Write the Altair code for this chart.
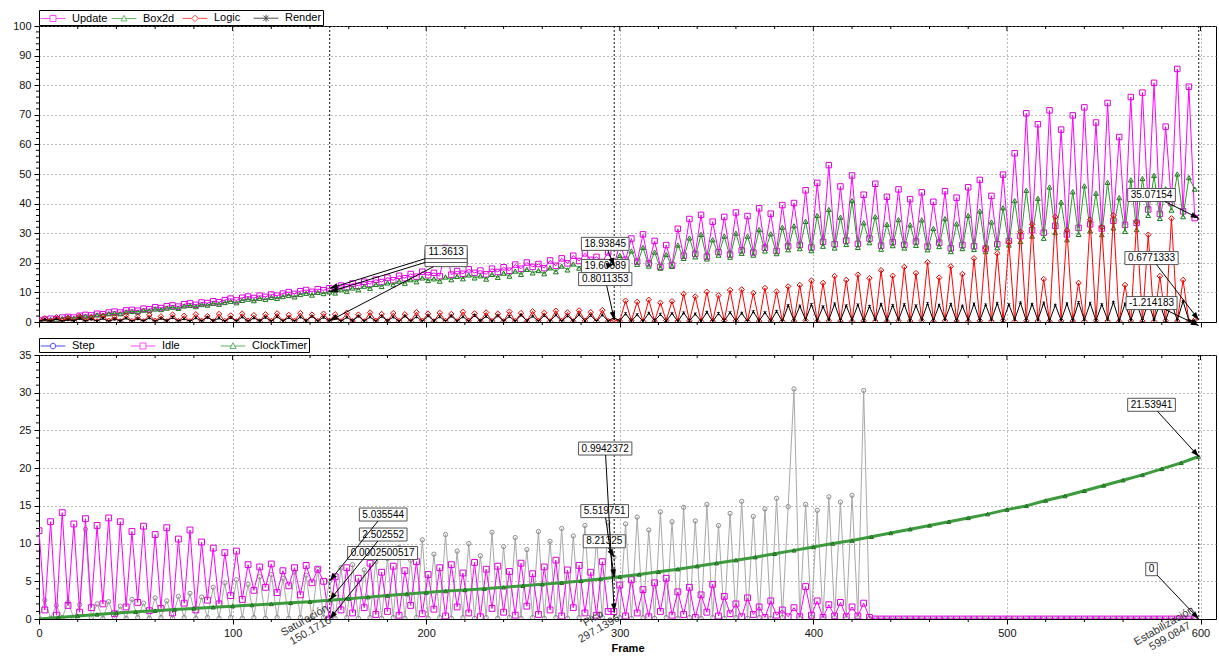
import math
import altair as alt
import pandas as pd

FONT = "Liberation Sans"
W = 1177
H_TOP = 296
H_BOT = 264
X_MAX = 608
Y_TOP_MAX = 100
Y_BOT_MAX = 35

# ---------------- data (sampled every 3rd frame) ----------------
frames = list(range(0, 600, 3))

update = [
    0.5, 0.8, 1.1, 0.9, 1.5, 1.7, 1.5, 2.1, 2.4, 2.2,
    2.8, 2.6, 3.2, 3.5, 3.2, 3.9, 4.1, 3.8, 4.5, 4.3,
    5.0, 4.7, 5.3, 5.6, 5.2, 6.0, 6.3, 5.8, 6.6, 6.4,
    7.0, 6.7, 7.4, 7.9, 7.3, 8.2, 8.6, 8.1, 8.9, 8.5,
    9.3, 8.9, 9.6, 10.1, 9.5, 10.4, 10.8, 10.2, 11.1, 10.7,
    11.4, 10.9, 12.3, 11.7, 13.0, 12.2, 13.6, 12.8, 14.3, 13.5,
    15.0, 14.1, 15.6, 14.8, 16.2, 15.3, 17.0, 15.8, 16.6, 15.5,
    25.0, 16.0, 17.2, 16.3, 17.8, 16.6, 17.4, 16.1, 18.0, 16.9,
    18.5, 17.3, 19.4, 18.0, 20.1, 18.6, 19.6, 18.2, 20.8, 19.0,
    21.5, 19.8, 22.4, 20.6, 23.2, 21.0, 22.0, 20.3, 23.5, 18.9,
    26.5, 21.0, 28.2, 20.4, 29.6, 19.8, 27.4, 18.6, 26.0, 19.2,
    31.5, 22.4, 34.8, 23.0, 36.2, 22.1, 33.9, 23.6, 35.5, 22.8,
    37.0, 24.2, 35.8, 23.5, 38.4, 25.1, 36.6, 24.0, 39.5, 25.6,
    40.2, 26.0, 44.5, 25.2, 47.0, 27.1, 53.0, 26.3, 45.8, 27.5,
    49.5, 26.4, 43.0, 28.2, 46.7, 25.8, 42.3, 27.0, 44.8, 26.1,
    41.5, 27.2, 43.8, 25.5, 40.6, 26.8, 44.2, 24.9, 42.0, 26.0,
    45.5, 25.6, 48.0, 24.8, 42.6, 26.3, 49.8, 27.4, 57.0, 29.0,
    70.5, 31.0, 66.8, 30.2, 71.5, 32.5, 65.0, 29.6, 69.8, 31.8,
    72.5, 33.0, 67.4, 31.6, 74.0, 34.2, 62.5, 32.8, 76.0, 33.5,
    77.5, 38.0, 80.8, 36.5, 66.0, 40.2, 85.5, 37.4, 79.5, 35.1,
]

box2d = [
    0.4, 0.6, 0.9, 0.8, 1.2, 1.4, 1.3, 1.8, 2.0, 1.9,
    2.4, 2.3, 2.8, 3.0, 2.8, 3.4, 3.6, 3.4, 4.0, 3.8,
    4.4, 4.2, 4.7, 5.0, 4.6, 5.4, 5.6, 5.2, 5.9, 5.7,
    6.3, 6.0, 6.6, 7.0, 6.5, 7.3, 7.7, 7.2, 8.0, 7.6,
    8.3, 8.0, 8.6, 9.0, 8.5, 9.3, 9.7, 9.1, 10.0, 9.6,
    10.2, 9.8, 10.9, 10.4, 11.5, 10.9, 12.1, 11.4, 12.7, 12.0,
    13.2, 12.6, 13.8, 13.1, 14.3, 13.6, 14.9, 14.0, 14.6, 13.8,
    15.2, 14.3, 15.4, 14.6, 15.9, 14.9, 15.6, 14.5, 16.1, 15.1,
    16.5, 15.5, 17.2, 16.1, 17.8, 16.6, 17.4, 16.3, 18.3, 17.0,
    18.9, 17.6, 19.6, 18.2, 20.3, 18.7, 19.5, 18.0, 20.6, 19.6,
    22.5, 19.8, 24.0, 19.5, 25.2, 18.9, 23.6, 18.2, 22.8, 18.8,
    26.0, 21.5, 28.4, 22.0, 29.6, 21.3, 27.8, 22.6, 29.0, 21.9,
    30.0, 23.2, 29.0, 22.6, 31.2, 24.0, 29.8, 23.1, 32.0, 24.4,
    32.5, 24.8, 34.0, 24.1, 36.0, 25.6, 38.0, 25.0, 35.4, 26.2,
    41.0, 25.2, 33.5, 26.8, 35.6, 24.6, 33.0, 25.8, 34.6, 25.0,
    32.8, 25.9, 34.5, 24.4, 31.6, 25.5, 34.9, 23.8, 33.2, 24.8,
    36.0, 24.5, 37.5, 23.8, 33.8, 25.1, 38.6, 26.0, 41.0, 27.2,
    44.5, 29.0, 41.8, 28.3, 45.6, 30.2, 40.5, 27.8, 44.0, 29.6,
    46.0, 30.8, 43.5, 29.5, 47.2, 31.8, 42.0, 30.6, 48.0, 31.2,
    48.5, 36.0, 49.5, 35.0, 45.0, 37.8, 50.0, 35.6, 48.8, 44.9,
]

logic = [
    0.3, 1.2, 0.2, 1.6, 0.4, 1.4, 0.2, 1.9, 0.3, 1.5,
    0.2, 2.0, 0.4, 1.7, 0.2, 2.2, 0.3, 1.8, 0.2, 2.4,
    0.4, 1.9, 0.2, 2.5, 0.3, 2.1, 0.2, 2.6, 0.4, 2.0,
    0.2, 2.7, 0.3, 2.2, 0.2, 2.8, 0.4, 2.3, 0.2, 2.6,
    0.3, 2.9, 0.2, 2.4, 0.4, 3.0, 0.2, 2.5, 0.3, 2.8,
    0.42, 2.6, 0.2, 3.1, 0.3, 2.5, 0.2, 3.2, 0.4, 2.7,
    0.2, 3.0, 0.3, 2.6, 0.2, 3.3, 0.4, 2.8, 0.2, 3.1,
    0.3, 2.7, 0.2, 3.4, 0.4, 2.9, 0.2, 3.2, 0.3, 2.8,
    0.2, 3.5, 0.3, 3.0, 0.2, 3.6, 0.4, 3.1, 0.2, 3.8,
    0.3, 3.2, 0.2, 3.9, 0.4, 3.3, 0.2, 4.0, 0.3, 0.8,
    0.3, 7.2, 0.4, 6.8, 0.2, 7.5, 0.3, 6.5, 0.5, 7.0,
    0.3, 9.5, 0.4, 8.6, 0.2, 10.2, 0.3, 9.0, 0.5, 10.8,
    0.4, 11.0, 0.2, 9.8, 0.3, 11.5, 0.4, 10.3, 0.2, 12.0,
    0.3, 12.5, 0.5, 14.0, 0.2, 13.2, 0.4, 15.5, 0.3, 14.2,
    0.2, 16.0, 0.4, 14.8, 0.3, 17.5, 0.2, 15.6, 0.4, 18.6,
    0.3, 16.5, 0.5, 20.2, 0.2, 15.0, 0.4, 18.8, 0.3, 16.2,
    0.2, 21.5, 0.4, 25.0, 0.3, 23.2, 0.5, 27.0, 0.2, 30.5,
    0.4, 33.0, 0.3, 14.5, 0.2, 35.5, 0.4, 31.0, 0.3, 13.2,
    0.2, 34.6, 0.5, 32.0, 0.3, 36.0, 0.2, 12.5, 0.4, 33.8,
    0.3, 29.5, 0.2, 15.5, 0.4, 35.0, 0.3, 14.2, 0.2, 0.68,
]

render = [
    0.2, 0.9, 0.3, 1.1, 0.2, 0.8, 0.4, 1.2, 0.3, 1.0,
    0.3, 1.2, 0.2, 1.0, 0.4, 1.3, 0.2, 1.1, 0.3, 1.4,
    0.2, 1.2, 0.4, 1.5, 0.3, 1.1, 0.2, 1.4, 0.3, 1.6,
    0.4, 1.3, 0.2, 1.5, 0.3, 1.7, 0.2, 1.4, 0.4, 1.6,
    0.2, 1.8, 0.3, 1.5, 0.2, 1.7, 0.4, 1.9, 0.3, 1.6,
    0.3, 1.8, 0.2, 1.6, 0.4, 2.0, 0.3, 1.7, 0.2, 1.9,
    0.4, 1.7, 0.2, 2.0, 0.3, 1.8, 0.2, 2.1, 0.4, 1.8,
    0.2, 2.0, 0.3, 1.8, 0.2, 2.2, 0.4, 1.9, 0.3, 2.1,
    0.3, 1.9, 0.2, 2.3, 0.4, 2.0, 0.2, 2.2, 0.3, 2.4,
    0.2, 2.1, 0.4, 2.5, 0.3, 2.2, 0.2, 2.4, 0.3, 1.5,
    0.4, 2.8, 0.3, 2.5, 0.2, 3.0, 0.4, 2.6, 0.3, 2.9,
    0.2, 3.1, 0.4, 2.7, 0.3, 3.3, 0.2, 2.9, 0.4, 3.2,
    0.3, 3.0, 0.2, 3.5, 0.4, 3.2, 0.3, 3.6, 0.2, 5.6,
    0.5, 5.4, 0.8, 5.9, 0.4, 5.2, 0.7, 6.1, 0.5, 5.5,
    0.6, 5.8, 0.4, 5.3, 0.8, 6.0, 0.5, 5.6, 0.7, 5.9,
    0.4, 5.5, 0.7, 6.2, 0.5, 5.7, 0.8, 6.0, 0.4, 5.4,
    0.6, 6.1, 0.5, 5.8, 0.7, 6.3, 0.4, 5.9, 0.8, 6.5,
    0.5, 6.0, 0.7, 6.4, 0.4, 5.7, 0.6, 6.2, 0.5, 6.6,
    0.7, 6.3, 0.5, 5.9, 0.8, 6.7, 0.4, 6.1, 0.6, 6.4,
    0.5, 6.8, 0.7, 6.2, 0.4, 6.5, 0.6, 7.0, 0.5, 0.4,
]

step = [
    0.2, 2.5, 0.1, 1.8, 0.2, 2.2, 0.1, 1.9, 11.9, 0.2,
    2.0, 0.1, 2.3, 0.2, 1.7, 0.1, 2.6, 0.2, 2.1, 0.1,
    2.8, 0.2, 2.4, 0.1, 3.0, 0.2, 3.4, 0.1, 2.9, 0.2,
    4.2, 0.1, 4.8, 0.2, 5.2, 0.1, 4.6, 0.2, 5.6, 0.1,
    5.9, 0.2, 5.4, 0.1, 6.2, 0.2, 5.8, 0.1, 6.6, 0.2,
    5.04, 0.1, 6.8, 0.2, 7.2, 0.1, 6.5, 0.2, 7.6, 0.1,
    8.0, 0.2, 9.5, 0.1, 7.8, 0.2, 10.5, 0.1, 8.6, 0.2,
    11.2, 0.1, 9.0, 0.2, 10.0, 0.1, 8.4, 0.2, 11.5, 0.1,
    9.6, 0.2, 10.8, 0.1, 9.2, 0.2, 11.6, 0.1, 10.3, 0.2,
    12.0, 0.1, 11.0, 0.2, 12.4, 0.1, 10.6, 0.2, 12.8, 8.2,
    0.2, 12.6, 0.1, 13.5, 0.2, 11.8, 0.1, 14.2, 0.2, 12.9,
    0.1, 14.8, 0.2, 13.0, 0.1, 15.2, 0.2, 12.4, 0.1, 14.0,
    0.2, 15.6, 0.1, 13.6, 0.2, 14.6, 0.1, 16.0, 0.2, 14.9,
    30.5, 0.1, 15.2, 0.2, 14.4, 0.1, 16.2, 0.2, 15.5, 0.1,
    16.4, 0.2, 30.3, 0.1, 0.0, 0.0, 0.0, 0.0, 0.0, 0.0,
    0.0, 0.0, 0.0, 0.0, 0.0, 0.0, 0.0, 0.0, 0.0, 0.0,
    0.0, 0.0, 0.0, 0.0, 0.0, 0.0, 0.0, 0.0, 0.0, 0.0,
    0.0, 0.0, 0.0, 0.0, 0.0, 0.0, 0.0, 0.0, 0.0, 0.0,
    0.0, 0.0, 0.0, 0.0, 0.0, 0.0, 0.0, 0.0, 0.0, 0.0,
    0.0, 0.0, 0.0, 0.0, 0.0, 0.0, 0.0, 0.0, 0.0, 0.0,
]

idle = [
    11.7, 1.2, 12.9, 0.5, 14.1, 1.8, 12.6, 0.9, 13.3, 1.5,
    12.4, 2.0, 13.4, 0.7, 12.9, 1.6, 11.6, 2.2, 12.3, 1.1,
    11.2, 1.4, 12.1, 0.8, 10.6, 2.1, 11.8, 1.2, 10.2, 2.5,
    9.4, 2.0, 8.8, 3.1, 9.0, 2.6, 7.2, 3.8, 6.9, 4.2,
    7.3, 3.5, 6.4, 4.4, 6.8, 3.2, 7.1, 4.8, 6.6, 5.0,
    0.0003, 5.6, 1.2, 6.8, 0.8, 5.4, 1.5, 7.4, 0.6, 6.2,
    1.0, 7.0, 0.5, 6.4, 1.8, 7.6, 0.7, 5.9, 1.3, 6.8,
    0.4, 7.2, 1.6, 6.1, 0.8, 7.5, 0.3, 6.6, 1.4, 7.0,
    0.9, 6.3, 0.5, 7.4, 1.7, 6.0, 0.6, 6.9, 1.2, 7.8,
    0.4, 6.5, 1.5, 7.1, 0.8, 6.2, 0.5, 7.6, 1.0, 0.99,
    4.5, 0.4, 5.2, 0.8, 3.9, 0.3, 4.8, 1.0, 5.4, 0.5,
    3.6, 0.6, 4.2, 0.2, 3.2, 0.9, 4.6, 0.4, 3.0, 0.7,
    2.0, 0.3, 2.8, 0.6, 1.6, 0.2, 2.4, 0.5, 1.2, 0.3,
    1.5, 0.3, 4.3, 0.5, 2.4, 0.2, 1.9, 0.4, 2.2, 0.3,
    1.6, 0.4, 2.1, 0.2, 0.0, 0.0, 0.0, 0.0, 0.0, 0.0,
    0.0, 0.0, 0.0, 0.0, 0.0, 0.0, 0.0, 0.0, 0.0, 0.0,
    0.0, 0.0, 0.0, 0.0, 0.0, 0.0, 0.0, 0.0, 0.0, 0.0,
    0.0, 0.0, 0.0, 0.0, 0.0, 0.0, 0.0, 0.0, 0.0, 0.0,
    0.0, 0.0, 0.0, 0.0, 0.0, 0.0, 0.0, 0.0, 0.0, 0.0,
    0.0, 0.0, 0.0, 0.0, 0.0, 0.0, 0.0, 0.0, 0.0, 0.0,
]

clock_frames = list(range(0, 600, 10)) + [599]
clock = [
    0.0, 0.2, 0.4, 0.6, 0.8, 0.95, 1.1, 1.25, 1.4, 1.55,
    1.7, 1.85, 2.0, 2.15, 2.3, 2.5, 2.7, 2.9, 3.1, 3.3,
    3.5, 3.7, 3.85, 4.0, 4.2, 4.4, 4.6, 4.8, 5.05, 5.3,
    5.6, 5.9, 6.25, 6.6, 7.0, 7.4, 7.8, 8.2, 8.65, 9.1,
    9.55, 10.0, 10.4, 10.9, 11.4, 11.9, 12.4, 12.9, 13.4, 13.9,
    14.5, 15.0, 15.7, 16.3, 17.0, 17.7, 18.4, 19.1, 19.9, 20.7,
    21.54,
]

top_names = ["Update", "Box2d", "Logic", "Render"]
top_legend_colors = ["#FF00FF", "#22A022", "#FF0000", "#000000"]
bot_names = ["Step", "Idle", "ClockTimer"]
bot_legend_colors = ["#0000FF", "#FF00FF", "#1E8C1E"]

marker_frames = [150.1716, 297.1396, 599.0847]
marker_names = ["Saturación", "Pico", "Estabilización"]
marker_texts = ["150.1716", "297.1396", "599.0847"]

# (label, label frame, label value, target frame, target value)
top_notes = [
    ("0.42133", 210.3, 20.9, 150.1716, 0.42),
    ("10.2018", 210.3, 22.3, 150.1716, 10.2),
    ("11.3613", 210.3, 23.6, 150.1716, 11.3613),
    ("0.8011353", 292.5, 14.5, 297.1396, 0.8011353),
    ("19.60089", 292.5, 18.9, 297.1396, 19.60089),
    ("18.93845", 292.5, 26.4, 297.1396, 18.93845),
    ("35.07154", 574.7, 42.9, 599.0847, 35.07154),
    ("0.6771333", 574.7, 21.6, 599.0847, 0.6771333),
    ("-1.214183", 574.7, 6.4, 599.0847, -1.214183),
]
bot_notes = [
    ("0.0002500517", 177.5, 8.75, 150.1716, 0.0002500517),
    ("2.502552", 177.8, 11.2, 150.1716, 2.502552),
    ("5.035544", 177.8, 13.85, 150.1716, 5.035544),
    ("8.21325", 292.0, 10.3, 297.1396, 8.21325),
    ("5.519751", 292.2, 14.3, 297.1396, 5.519751),
    ("0.9942372", 292.5, 22.6, 297.1396, 0.9942372),
    ("21.53941", 574.7, 28.4, 599.0847, 21.53941),
    ("0", 574.7, 6.6, 599.0847, 0.0),
]

for arr in (update, box2d, logic, render, step, idle):
    assert len(arr) == len(frames), len(arr)
assert len(clock) == len(clock_frames)

# ---------------- styling helpers ----------------
# legend symbol paths: 1 unit = 6.5 px (symbolSize 169), line spans about 25 px
P_SQUARE = "M-1.9,0H-0.46M0.46,0H1.9M-0.46,-0.46H0.46V0.46H-0.46Z"
P_TRI = "M-1.9,0H-0.3M0.3,0H1.9M0,-0.5L0.46,0.38H-0.46Z"
P_DIAM = "M-1.9,0H-0.5M0.5,0H1.9M0,-0.5L0.5,0L0,0.5L-0.5,0Z"
P_STAR = "M-1.9,0H1.9M-0.4,-0.4L0.4,0.4M-0.4,0.4L0.4,-0.4M0,-0.55V0.55"
P_CIRC = "M-1.9,0H-0.42M0.42,0H1.9M-0.42,0A0.42,0.42,0,1,0,0.42,0A0.42,0.42,0,1,0,-0.42,0Z"
ASTER = "M-1,-1L1,1M-1,1L1,-1M0,-1.3V1.3"
ARROW = "M0,0L-0.55,1.6L0.55,1.6Z"


def text_w(s, fs):
    w = 0.0
    for ch in s:
        if ch.isdigit():
            w += 0.556 * fs
        elif ch == ".":
            w += 0.278 * fs
        elif ch == "-":
            w += 0.333 * fs
        else:
            w += 0.5 * fs
    return w


xscale = alt.Scale(domain=[0, X_MAX], nice=False, zero=False)
X_TOP = alt.X("frame:Q", scale=xscale,
              axis=alt.Axis(values=list(range(0, 601, 100)), labels=False, ticks=True,
                            tickSize=5, grid=True, title=None))
X_BOT = alt.X("frame:Q", scale=xscale,
              axis=alt.Axis(values=list(range(0, 601, 100)), labels=True, ticks=True,
                            tickSize=5, grid=True, title="Frame", titleFontWeight="bold",
                            titleFontSize=11, titlePadding=4, labelPadding=3,
                            labelFlush=False))
Y_TOP = alt.Y("v:Q", scale=alt.Scale(domain=[0, Y_TOP_MAX], nice=False, zero=False),
              axis=alt.Axis(values=list(range(0, 101, 10)), tickSize=5, grid=True,
                            title=None, labelPadding=3, labelFlush=False))
Y_BOT = alt.Y("v:Q", scale=alt.Scale(domain=[0, Y_BOT_MAX], nice=False, zero=False),
              axis=alt.Axis(values=list(range(0, 36, 5)), tickSize=5, grid=True,
                            title=None, labelPadding=3, labelFlush=False))


def series(xs, ys, line_color, shape, size, mark_color, X, Y, width=1.0):
    df = pd.DataFrame({"frame": xs, "v": ys})
    base = alt.Chart(df)
    line = base.mark_line(color=line_color, strokeWidth=width, clip=True).encode(x=X, y=Y)
    pts = base.mark_point(shape=shape, size=size, filled=False, color=mark_color,
                          strokeWidth=1, clip=True, opacity=1).encode(x=X, y=Y)
    return [line, pts]


def legend_layer(names, colors, paths, X, Y, ly):
    df = pd.DataFrame({"s": names, "frame": [-100] * len(names), "v": [-1000] * len(names)})
    leg = alt.Legend(title=None, orient="none", legendX=0, legendY=ly, direction="horizontal",
                     symbolSize=169, symbolOffset=6, symbolStrokeWidth=1, labelFont=FONT,
                     labelFontSize=11, labelColor="black", fillColor="white",
                     strokeColor="black", padding=1, columnPadding=0, gridAlign="all",
                     labelOffset=12, rowPadding=0)
    return alt.Chart(df).mark_point(filled=False, clip=True).encode(
        x=X, y=Y,
        color=alt.Color("s:N", scale=alt.Scale(domain=names, range=colors), legend=leg),
        shape=alt.Shape("s:N", scale=alt.Scale(domain=names, range=paths), legend=leg),
    )


def minor_ticks(xvals, yvals, X, Y, H):
    layers = []
    dfy = pd.DataFrame({"v": yvals})
    layers.append(alt.Chart(dfy).mark_rule(color="black", strokeWidth=1).encode(
        y=Y, x=alt.value(-3), x2=alt.value(0)))
    dfx = pd.DataFrame({"frame": xvals})
    layers.append(alt.Chart(dfx).mark_rule(color="black", strokeWidth=1).encode(
        x=X, y=alt.value(H), y2=alt.value(H + 3)))
    layers.append(alt.Chart(dfx).mark_rule(color="black", strokeWidth=1).encode(
        x=X, y=alt.value(0), y2=alt.value(3)))
    dfm = pd.DataFrame({"frame": list(range(100, 601, 100))})
    layers.append(alt.Chart(dfm).mark_rule(color="black", strokeWidth=1).encode(
        x=X, y=alt.value(0), y2=alt.value(5)))
    return layers


def marker_rules(X, H):
    df = pd.DataFrame({"frame": marker_frames})
    return alt.Chart(df).mark_rule(color="#111111", strokeDash=[2, 2], strokeWidth=1).encode(
        x=X, y=alt.value(0), y2=alt.value(H))


def annotations(notes, X, Y, H, ymax):
    sx = W / X_MAX
    sy = H / ymax
    boxes, arrows = [], []
    for lab, lx, ly, tx, ty in notes:
        hw = text_w(lab, 10) / 2 + 3
        hh = 6.5
        d = pd.DataFrame({"frame": [lx], "v": [ly]})
        boxes.append(alt.Chart(d).mark_rect(
            fill="white", stroke="#555555", strokeWidth=1,
            xOffset=-hw, x2Offset=hw, yOffset=-hh, y2Offset=hh).encode(
            x=X, x2=alt.X2("frame"), y=Y, y2=alt.Y2("v")))
        boxes.append(alt.Chart(d).mark_text(text=lab, font=FONT, fontSize=10, color="black",
                                            baseline="middle", align="center").encode(x=X, y=Y))
        dxp = (tx - lx) * sx
        dyp = -(ty - ly) * sy
        kx = hw / abs(dxp) if dxp else float("inf")
        ky = hh / abs(dyp) if dyp else float("inf")
        t = min(kx, ky)
        if t < 1:
            ex = lx + t * dxp / sx
            ey = ly - t * dyp / sy
            r = pd.DataFrame({"frame": [ex], "v": [ey], "frame2": [tx], "v2": [ty]})
            arrows.append(alt.Chart(r).mark_rule(color="black", strokeWidth=1).encode(
                x=X, y=Y, x2=alt.X2("frame2"), y2=alt.Y2("v2")))
        ang = round(math.degrees(math.atan2(dxp, -dyp)) % 360, 2)
        h = pd.DataFrame({"frame": [tx], "v": [ty]})
        arrows.append(alt.Chart(h).mark_point(shape=ARROW, size=100, filled=True, color="black",
                                              angle=ang, opacity=1).encode(x=X, y=Y))
    return boxes + arrows


def marker_labels(X, H):
    layers = []
    for name, val, f in zip(marker_names, marker_texts, marker_frames):
        mw = max(text_w(name, 11), text_w(val, 11))
        d = pd.DataFrame({"frame": [f]})
        layers.append(alt.Chart(d).mark_text(
            text=[name, val], font=FONT, fontSize=11, color="#333333", angle=330,
            align="center", baseline="middle", dx=-(mw / 2 + 1) + 6, dy=-11,
            lineHeight=12).encode(x=X, y=alt.value(H)))
    return layers


x_minor = [v for v in range(0, 601, 20) if v % 100 != 0]

# ---------------- top panel ----------------
top_layers = []
top_layers += series(frames, update, "#FF00FF", "square", 30, "#E000E0", X_TOP, Y_TOP)
top_layers += series(frames, box2d, "#22A022", "triangle-up", 24, "#1A7A1A", X_TOP, Y_TOP)
top_layers += series(frames, logic, "#FF0000", "diamond", 30, "#E00000", X_TOP, Y_TOP)
top_layers += series(frames, render, "#000000", ASTER, 6, "#000000", X_TOP, Y_TOP)
top_layers.append(marker_rules(X_TOP, H_TOP))
top_layers += minor_ticks(x_minor, [v for v in range(0, 101, 2) if v % 10 != 0], X_TOP, Y_TOP, H_TOP)
top_layers += annotations(top_notes, X_TOP, Y_TOP, H_TOP, Y_TOP_MAX)
top_layers.append(legend_layer(top_names, top_legend_colors,
                               [P_SQUARE, P_TRI, P_DIAM, P_STAR], X_TOP, Y_TOP, -16))
top = alt.layer(*top_layers).properties(width=W, height=H_TOP)

# ---------------- bottom panel ----------------
bot_layers = []
bot_layers += series(frames, step, "#A8A8A8", "circle", 18, "#8C8C8C", X_BOT, Y_BOT)
bot_layers += series(frames, idle, "#FF00FF", "square", 34, "#E000E0", X_BOT, Y_BOT)
bot_layers += series(clock_frames, clock, "#3C9B3C", "triangle-up", 16, "#1A6A1A", X_BOT, Y_BOT,
                     width=3)
bot_layers.append(marker_rules(X_BOT, H_BOT))
bot_layers += minor_ticks(x_minor, [v for v in range(0, 36) if v % 5 != 0], X_BOT, Y_BOT, H_BOT)
bot_layers += annotations(bot_notes, X_BOT, Y_BOT, H_BOT, Y_BOT_MAX)
bot_layers += marker_labels(X_BOT, H_BOT)
bot_layers.append(legend_layer(bot_names, bot_legend_colors,
                               [P_CIRC, P_SQUARE, P_TRI], X_BOT, Y_BOT, -17))
bot = alt.layer(*bot_layers).properties(width=W, height=H_BOT)

chart = (
    alt.vconcat(top, bot, spacing=9)
    .resolve_scale(x="independent", y="independent", color="independent", shape="independent")
    .resolve_legend(color="independent", shape="independent")
    .properties(padding={"left": 12, "top": 9, "right": 2, "bottom": 2}, background="white")
    .configure_view(stroke="black", strokeWidth=1)
    .configure_axis(labelFont=FONT, labelFontSize=11, labelColor="#111111", titleFont=FONT,
                    titleColor="black", tickColor="black", domainColor="black",
                    gridColor="#777777", gridDash=[1, 3], gridWidth=1, labelOverlap=False)
)

chart.save("out.html", embed_options={"renderer": "svg", "actions": False})
